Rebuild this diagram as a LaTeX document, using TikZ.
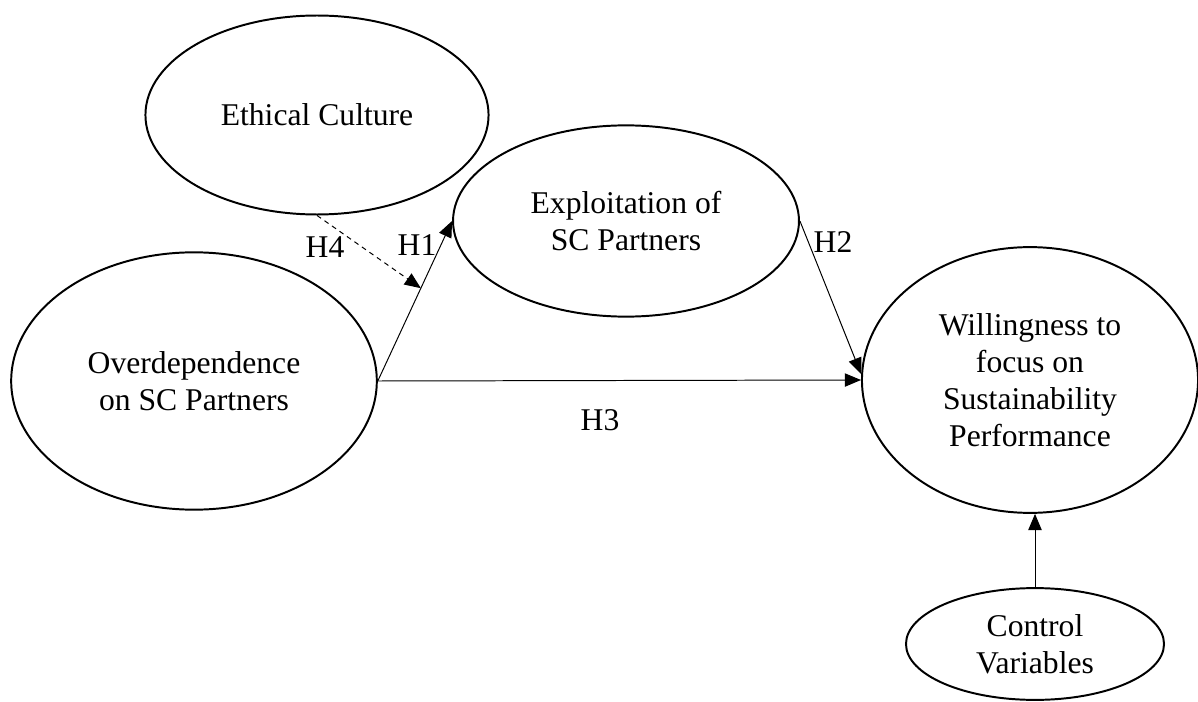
\documentclass[tikz,border=0pt]{standalone}
\usepackage{fontspec}
\setmainfont{Liberation Serif}
\usetikzlibrary{shapes.geometric,arrows.meta,calc}
\begin{document}
\begin{tikzpicture}[x=0.025cm,y=-0.025cm,font=\fontsize{22.5}{26.3}\selectfont]
    \tikzstyle{construct}=[ellipse,draw,line width=1.4pt,inner sep=0pt,align=center]
    \tikzstyle{link}=[line width=0.7pt,-{Triangle[length=11.5pt,width=9.5pt]}]
    \tikzstyle{hyp}=[inner sep=0pt]
    \useasboundingbox (0,0) rectangle (1198,702);
    \node[construct,minimum width=244pt,minimum height=141.5pt] (eth) at (317,115) {Ethical Culture};
    \node[construct,minimum width=246pt,minimum height=136pt] (expl) at (626,221) {Exploitation of\\SC Partners};
    \node[construct,minimum width=260pt,minimum height=183pt] (over) at (194,381) {Overdependence\\on SC Partners};
    \node[construct,minimum width=239pt,minimum height=189pt] (will) at (1030,380) {Willingness to\\focus on\\Sustainability\\Performance};
    \node[construct,minimum width=183.5pt,minimum height=79.5pt] (ctrl) at (1035,644) {Control\\Variables};
    \coordinate (mod) at ($(over.east)!0.58!(expl.west)$);
    \draw[link] (over.east) -- (expl.west);
    \draw[link] (over.east) -- (will.west);
    \draw[link] (expl.east) -- (will.178);
    \draw[link,dash pattern=on 3.5pt off 3pt] (eth.south) -- (mod);
    \draw[link] (ctrl.north) -- (ctrl.north |- will.south);
    \node[hyp] (h4) at (325,247) {H4};
    \node[hyp] (h1) at (417,245) {H1};
    \node[hyp] (h2) at (833,242) {H2};
    \node[hyp] (h3) at (600,420) {H3};
\end{tikzpicture}
\end{document}
